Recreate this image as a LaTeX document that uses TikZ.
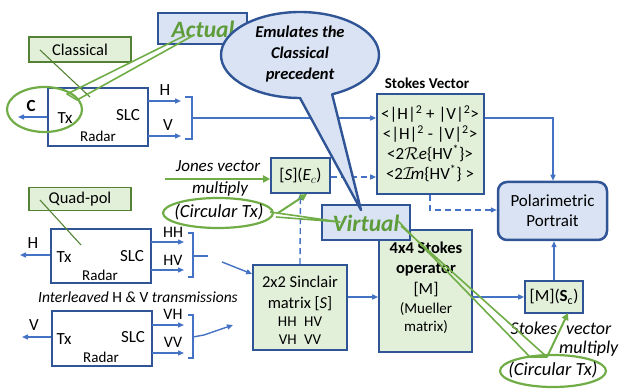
\documentclass[tikz,border=0pt]{standalone}
\usepackage{fontspec}
\setmainfont{Carlito}
\usetikzlibrary{arrows.meta,shapes.geometric,calc}
\definecolor{dblue}{HTML}{2F5597}
\definecolor{bblue}{HTML}{4472C4}
\definecolor{lblue}{HTML}{DAE3F3}
\definecolor{lgreen}{HTML}{E2F0D9}
\definecolor{dgreen}{HTML}{548235}
\definecolor{mgreen}{HTML}{70AD47}
\definecolor{tgreen}{HTML}{5E9C3A}
\begin{document}
\begin{tikzpicture}[x=1pt,y=-1pt,
  gbox/.style={draw=dgreen, line width=1.5pt, fill=lgreen, inner sep=0pt},
  sbox/.style={draw=dblue, line width=1.6pt, fill=lgreen, inner sep=0pt},
  rbox/.style={draw=dblue, line width=1.6pt, fill=white, inner sep=0pt},
  cbox/.style={draw=dblue, line width=2.5pt, fill=lblue, inner sep=0pt},
  barr/.style={draw=bblue, line width=1.4pt, -{Triangle[length=6pt,width=5pt]}},
  bline/.style={draw=bblue, line width=1.4pt},
  bdash/.style={draw=bblue, line width=1.4pt, dash pattern=on 6pt off 4pt, -{Triangle[length=6pt,width=5pt]}},
  garr/.style={draw=mgreen, line width=2pt, -{Triangle[length=7pt,width=7pt]}},
  gell/.style={draw=mgreen, line width=2.2pt, ellipse, inner sep=0pt},
  gwedge/.style={draw=mgreen, line width=1.6pt, line join=round},
  thin/.style={draw=dgreen, line width=1.1pt},
  fz/.style={font=\fontsize{#1}{#1}\selectfont, inner sep=0pt},
  itz/.style={font=\fontsize{#1}{#1}\selectfont\itshape, inner sep=0pt},
]
\useasboundingbox (0,0) rectangle (622,390);

% ---------- Radar 1 (classical) ----------
\node[gbox, minimum width=102, minimum height=25, fz=16.5] (classical) at (80,49.5) {Classical};
\node[rbox, minimum width=100, minimum height=58] (radar1) at (98,117) {};
\node[fz=17] (tx1) at (65,118) {Tx};
\node[fz=17] (slc1) at (128,115) {SLC};
\node[fz=15] (rd1) at (98,136) {Radar};
\coordinate (c1) at (18,117);
\draw[barr] (radar1.west |- c1) -- (c1);
\node[inner sep=0pt, font=\fontsize{17}{17}\selectfont\bfseries] (clab) at (31,106) {C};
\node[gell, minimum width=75, minimum height=45] (cell) at (44.5,109.5) {};
\coordinate (h1s) at (148,101); \coordinate (h1e) at (181,101);
\coordinate (v1s) at (148,136); \coordinate (v1e) at (181,136);
\draw[barr] (h1s) -- (h1e);
\draw[barr] (v1s) -- (v1e);
\node[fz=17] (hl1) at (165,90) {H};
\node[fz=17] (vl1) at (168,125) {V};
\coordinate (b1a) at (185,97); \coordinate (b1b) at (185,139);
\draw[bline] (b1a) -- (192,97) -- (192,139) -- (b1b);
\coordinate (b1m) at (192,118);

% ---------- Radar 2 ----------
\node[gbox, minimum width=102, minimum height=23, fz=16.5] (quad) at (80,199) {Quad-pol};
\node[rbox, minimum width=100, minimum height=54] (radar2) at (101,256) {};
\node[fz=17] (tx2) at (64,257) {Tx};
\node[fz=17] (slc2) at (132,256) {SLC};
\node[fz=15] (rd2) at (100,275) {Radar};
\coordinate (c2) at (20,255);
\draw[barr] (radar2.west |- c2) -- (c2);
\node[fz=17] (hl2) at (33,243) {H};
\coordinate (hh2s) at (151,242); \coordinate (hh2e) at (184,242);
\coordinate (hv2s) at (151,270); \coordinate (hv2e) at (184,270);
\draw[barr] (hh2s) -- (hh2e);
\draw[barr] (hv2s) -- (hv2e);
\node[fz=16] (hhl) at (173,232) {HH};
\node[fz=16] (hvl) at (173,260) {HV};
\draw[bline] (188,233) -- (193,233) -- (193,277) -- (188,277);
\coordinate (b2m) at (193,256); \coordinate (b2e) at (208,256);
\draw[bline] (b2m) -- (b2e);

\node[fz=15.5] (inter) at (138,297) {\itshape Interleaved \upshape H \itshape\& \upshape V \itshape transmissions};

% ---------- Radar 3 ----------
\node[rbox, minimum width=100, minimum height=55] (radar3) at (102,338.5) {};
\node[fz=17] (tx3) at (64,339) {Tx};
\node[fz=17] (slc3) at (133,337) {SLC};
\node[fz=15] (rd3) at (101,357) {Radar};
\coordinate (c3) at (22,337);
\draw[barr] (radar3.west |- c3) -- (c3);
\node[fz=17] (vl3) at (34,325) {V};
\coordinate (vh3s) at (152,325); \coordinate (vh3e) at (184,325);
\coordinate (vv3s) at (152,353); \coordinate (vv3e) at (184,353);
\draw[barr] (vh3s) -- (vh3e);
\draw[barr] (vv3s) -- (vv3e);
\node[fz=16] (vhl) at (173,314) {VH};
\node[fz=16] (vvl) at (173,342) {VV};
\draw[bline] (188,315) -- (193,315) -- (193,358) -- (188,358);
\coordinate (b3m) at (193,337); \coordinate (b3k) at (204,335); \coordinate (b3e) at (233,325);
\draw[barr] (b3m) -- (b3k) -- (b3e);

% ---------- Sinclair ----------
\node[sbox, minimum width=94, minimum height=85] (sinc) at (300,307.5) {};
\node[align=center, inner sep=0pt, font=\fontsize{16.5}{21}\selectfont] (sinct) at (300,293.5) {2x2 Sinclair\\matrix [\textit{S}]};
\node[align=center, inner sep=0pt, font=\fontsize{15}{18}\selectfont] (sincm) at (300,331) {HH\enspace HV\\VH\enspace VV};
\coordinate (a2s) at (222,262);
\draw[barr] (a2s) -- (sinc.west |- 0,274);

% ---------- Jones ----------
\node[sbox, minimum width=59, minimum height=35, fz=17] (sec) at (300.5,175.5) {[\textit{S}](\textit{E$_c$})};
\node[itz=17] (jones1) at (218,166) {Jones vector};
\node[itz=17] (jones2) at (220,189) {multiply};
\coordinate (jstart) at (165,179);
\draw[garr] (jstart) -- (sec.west |- jstart);
\draw[bdash] (sinc.north) -- (sec.south);
\node[gell, minimum width=110, minimum height=30] (circ1) at (218,213) {};
\node[itz=18.5] (circ1t) at (219,212) {(Circular Tx)};
\coordinate (circ1a) at (278,213);
\draw[garr] (circ1a) -- (307,194);

% ---------- Stokes vector ----------
\node[inner sep=0pt, font=\fontsize{15}{18}\selectfont\bfseries] (svt) at (427,83) {Stokes Vector};
\node[sbox, minimum width=107, minimum height=100] (sv) at (430.5,144) {};
\node[align=center, inner sep=0pt, font=\fontsize{17}{20}\selectfont] (svtext) at (430,143.5) {%
<|H|\textsuperscript{2} + |V|\textsuperscript{2}>\\<|H|\textsuperscript{2} - |V|\textsuperscript{2}>\\<2$\mathcal{R}\mathit{e}$\{HV\textsuperscript{*}\}>\\<2$\mathcal{I}\!\mathit{m}$\{HV\textsuperscript{*}\} >};
\draw[barr] (b1m) -- (sv.west |- b1m);
\draw[bdash] (sec.east |- 0,177) -- (sv.west |- 0,177);

% ---------- Polarimetric portrait ----------
\node[cbox, rounded corners=9pt, minimum width=109, minimum height=58, align=center, font=\fontsize{17}{20}\selectfont] (pp) at (552.5,211) {Polarimetric\\Portrait};
\coordinate (svk) at (553,118);
\draw[barr] (sv.east |- svk) -- (svk) -- (pp.north -| svk);
\coordinate (svd) at (430,210);
\draw[bdash] (sv.south -| svd) -- (svd) -- (pp.west |- svd);

% ---------- 4x4 Stokes operator ----------
\node[sbox, minimum width=93, minimum height=122] (mop) at (425.5,291) {};
\node[align=center, inner sep=0pt, font=\fontsize{16.5}{20}\selectfont\bfseries] (mopt) at (426,259.5) {4x4 Stokes\\operator};
\node[fz=17] (mopm) at (426,290) {[M]};
\node[align=center, inner sep=0pt, font=\fontsize{15}{18}\selectfont] (mopmu) at (426,318.5) {(Mueller\\matrix)};
\draw[barr] (sinc.east |- 0,297) -- (mop.west |- 0,297);

% ---------- [M](Sc) ----------
\node[sbox, minimum width=58, minimum height=32, fz=17] (msc) at (554,297) {[M]($\mathbf{S}_\mathrm{c}$)};
\draw[barr] (mop.east |- msc) -- (msc.west);
\draw[barr] (msc.north) -- (pp.south -| msc.north);
\node[itz=18] (sv1) at (561,328) {Stokes\enspace vector};
\node[itz=18, anchor=west] (sv2) at (559,349) {multiply};
\node[gell, minimum width=106, minimum height=32] (circ2) at (553,371) {};
\node[itz=18.5] (circ2t) at (553,370) {(Circular Tx)};
\coordinate (circ2a) at (547,357);
\draw[garr] (circ2a) -- (568,313);

% ---------- Virtual callout ----------
\node[cbox, minimum width=88, minimum height=35] (virt) at (366,222.5) {};
\node[inner sep=0pt, text=tgreen, font=\fontsize{23.5}{24}\selectfont\bfseries\itshape] (virtt) at (366,223) {Virtual};

% ---------- Actual callout ----------
\node[cbox, minimum width=89, minimum height=31] (act) at (202.5,28.5) {};
\node[inner sep=0pt, text=tgreen, font=\fontsize{23.5}{24}\selectfont\bfseries\itshape] (actt) at (203,29) {Actual};

% ---------- Speech bubble ----------
\path[draw=dblue, line width=2.4pt, fill=lblue, line join=round] (300,98) arc[start angle=90, end angle=426, x radius=79, y radius=43] -- (361,210) -- cycle;
\node[inner sep=0pt, align=center, font=\fontsize{16.5}{21}\selectfont\bfseries\itshape] (emu) at (300,54) {Emulates the\\Classical\\precedent};

% ---------- Pointers ----------
\coordinate (cl0) at (40,50); \coordinate (cl1) at (90,97);
\draw[thin] (cl0) -- (cl1);
\coordinate (qp0) at (40,200); \coordinate (qp1) at (81,245);
\draw[thin] (qp0) -- (qp1);
\coordinate (aw1) at (184,36); \coordinate (aw2) at (67,94); \coordinate (aw3) at (77,100); \coordinate (aw4) at (194,35);
\draw[gwedge] (aw1) -- (aw2) -- (aw3) -- (aw4);
\coordinate (vw1) at (270,212); \coordinate (vw2) at (340,222); \coordinate (vw3) at (276,217);
\draw[gwedge] (vw1) -- (vw2) -- (vw3);
\coordinate (vr1) at (398,221); \coordinate (vr2) at (530,357); \coordinate (vr3) at (547,357); \coordinate (vr4) at (401,226);
\draw[gwedge] (vr1) -- (vr2) -- (vr3) -- (vr4);
\end{tikzpicture}
\end{document}
